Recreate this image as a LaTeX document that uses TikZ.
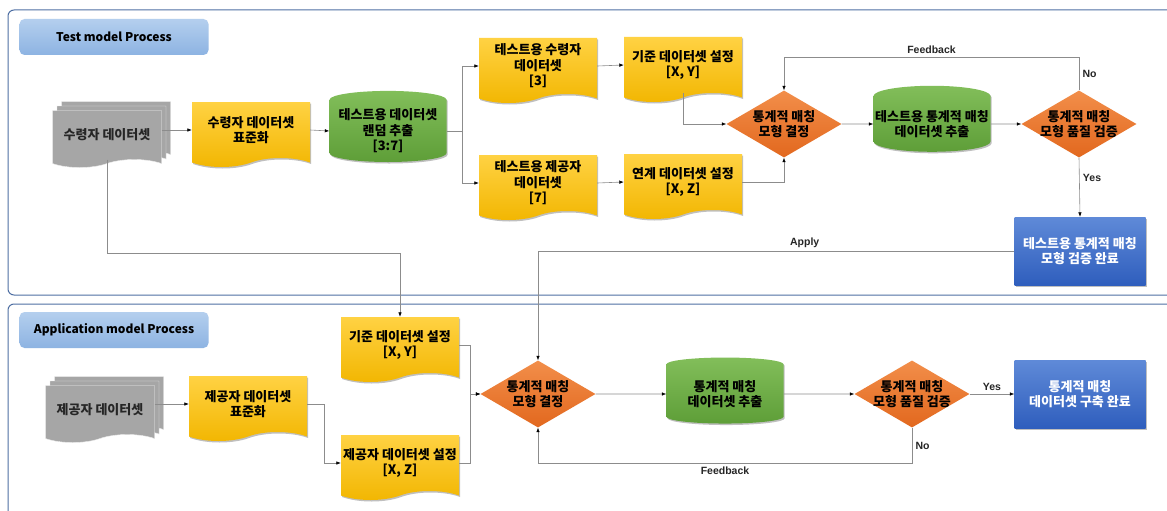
\documentclass[tikz,border=0pt]{standalone}
\usepackage{fontspec}
\setmainfont{Liberation Sans}
\newfontfamily\kr{Noto Sans CJK KR}
\usepackage{tikz}
\usetikzlibrary{arrows.meta,shapes.geometric,shapes.symbols,shadows}
\usepackage{xcolor}

\definecolor{panelline}{HTML}{4F6FA3}
\definecolor{titletop}{HTML}{B4CFEE}
\definecolor{titlebot}{HTML}{8DB3E2}
\definecolor{docgray}{HTML}{A6A6A6}
\definecolor{goldtop}{HTML}{FFD243}
\definecolor{goldbot}{HTML}{F2B600}
\definecolor{greentop}{HTML}{82BE5A}
\definecolor{greenbot}{HTML}{5E9E38}
\definecolor{orangetop}{HTML}{F28E4A}
\definecolor{orangebot}{HTML}{E2681E}
\definecolor{bluetop}{HTML}{5F8AD8}
\definecolor{bluebot}{HTML}{2F5EBD}
\definecolor{wire}{HTML}{8C8C8C}

\begin{document}
\begin{tikzpicture}[x=1pt,y=-1pt,
  every node/.style={font=\kr\bfseries\fontsize{13}{15.5}\selectfont,align=center},
  soft/.style={drop shadow={shadow xshift=1.2pt,shadow yshift=-1.5pt,opacity=0.25,fill=black}},
  doc/.style={tape,tape bend top=none,tape bend bottom=in and out,tape bend height=9pt,
    minimum width=118pt,minimum height=65pt,inner xsep=0pt,top color=goldtop,bottom color=goldbot,soft},
  stack/.style={tape,tape bend top=none,tape bend bottom=in and out,tape bend height=8pt,
    minimum width=109pt,minimum height=57pt,inner xsep=0pt,fill=docgray,draw=white!80!docgray,line width=0.4pt,text=black!85,
    copy shadow={shadow xshift=9pt,shadow yshift=9pt,fill=docgray,draw=white!80!docgray,line width=0.4pt},
    copy shadow={shadow xshift=4.5pt,shadow yshift=4.5pt,fill=docgray,draw=white!80!docgray,line width=0.4pt}},
  store/.style={cylinder,shape border rotate=90,aspect=0.18,minimum width=117pt,minimum height=66pt,
    inner sep=0pt,top color=greentop,bottom color=greenbot,soft},
  decide/.style={diamond,aspect=1.7,inner sep=-5pt,minimum width=115pt,minimum height=67pt,
    top color=orangetop,bottom color=orangebot},
  finish/.style={rectangle,minimum width=131pt,minimum height=68pt,text=white,
    top color=bluetop,bottom color=bluebot,soft},
  tag/.style={rectangle,rounded corners=5pt,minimum width=189pt,minimum height=36pt,
    top color=titletop,bottom color=titlebot,font=\kr\bfseries\fontsize{12}{14}\selectfont},
  panel/.style={draw=panelline,line width=1pt,rounded corners=6pt},
  lbl/.style={font=\bfseries\fontsize{10.5}{12}\selectfont,text=black!85},
  conn/.style={draw=wire,line width=0.6pt,-{Latex[length=4.5pt,width=3.5pt,color=black]}}]
\useasboundingbox (0,0) rectangle (1167,511);
\clip (0,0) rectangle (1167,511);
\fill[white] (0,0) rectangle (1167,511);
\draw[panel] (8,10) rectangle (1190,295);
\draw[panel] (8,304) rectangle (1190,540);

\node[tag] (tagT) at (114,37) {Test model Process};
\node[stack] (rcvData) at (107,135) {수령자 데이터셋};
\node[doc] (rcvStd) at (251,130) {수령자 데이터셋\\표준화};
\node[store] (testExt) at (388,131) {테스트용 데이터셋\\랜덤 추출\\{[3:7]}};
\node[doc] (testRcv) at (538,66) {테스트용 수령자\\데이터셋\\{[3]}};
\node[doc] (testPrv) at (538,183) {테스트용 제공자\\데이터셋\\{[7]}};
\node[doc] (refSet) at (683,65) {기준 데이터셋 설정\\{[X, Y]}};
\node[doc] (lnkSet) at (683,182) {연계 데이터셋 설정\\{[X, Z]}};
\node[decide] (pick) at (784,124) {통계적 매칭\\모형 결정};
\node[store] (matchExt) at (932,124) {테스트용 통계적 매칭\\데이터셋 추출};
\node[decide] (check) at (1079,124) {통계적 매칭\\모형 품질 검증};
\node[finish] (done) at (1080,251) {테스트용 통계적 매칭\\모형 검증 완료};

\node[tag] (tagB) at (114,330) {Application model Process};
\node[stack] (prvData) at (100,410) {제공자 데이터셋};
\node[doc] (prvStd) at (248,404) {제공자 데이터셋\\표준화};
\node[doc] (refSetB) at (400,345) {기준 데이터셋 설정\\{[X, Y]}};
\node[doc] (prvSet) at (400,463) {제공자 데이터셋 설정\\{[X, Z]}};
\node[decide] (pickB) at (538,394) {통계적 매칭\\모형 결정};
\node[store] (matchExtB) at (725,394) {통계적 매칭\\데이터셋 추출};
\node[decide] (checkB) at (912,394) {통계적 매칭\\모형 품질 검증};
\node[finish] (doneB) at (1080,394) {통계적 매칭\\데이터셋 구축 완료};

\draw[conn] (rcvData.east |- rcvStd.west) -- (rcvStd.west);
\draw[conn] (rcvStd.east) -- (testExt.west);
\draw[conn] (testExt.east) -- ++(16,0) |- (testRcv.west);
\draw[conn] (testExt.east) -- ++(16,0) |- (testPrv.west);
\draw[conn] (testRcv.east) -- (refSet.west);
\draw[conn] (testPrv.east) -- (lnkSet.west);
\draw[conn] (refSet.south) |- (pick.west);
\draw[conn] (lnkSet.east) -| (pick.south);
\draw[conn] (pick.east) -- (matchExt.west);
\draw[conn] (matchExt.east) -- (check.west);
\draw[conn] (check.north) -- node[lbl,right,pos=0.5] {No} ++(0,-33) -| node[lbl,above,pos=0.25] {Feedback} (pick.north);
\draw[conn] (check.south) -- node[lbl,right,pos=0.35] {Yes} (done.north);
\draw[conn] (done.west) -| node[lbl,above,pos=0.22] {Apply} (pickB.north);
\draw[conn] (rcvData.south) -- ++(0,94) -| (refSetB.north);

\draw[conn] (prvData.east |- prvStd.west) -- (prvStd.west);
\draw[conn] (prvStd.east) -- ++(17,0) |- (prvSet.west);
\draw[conn] (refSetB.east) -- ++(11,0) |- (pickB.west);
\draw[conn] (prvSet.east) -- ++(11,0) |- (pickB.west);
\draw[conn] (pickB.east) -- (matchExtB.west);
\draw[conn] (matchExtB.east) -- (checkB.west);
\draw[conn] (checkB.east) -- node[lbl,above] {Yes} (doneB.west);
\draw[conn] (checkB.south) -- node[lbl,right] {No} ++(0,36) -| node[lbl,below,pos=0.25] {Feedback} (pickB.south);
\end{tikzpicture}
\end{document}
